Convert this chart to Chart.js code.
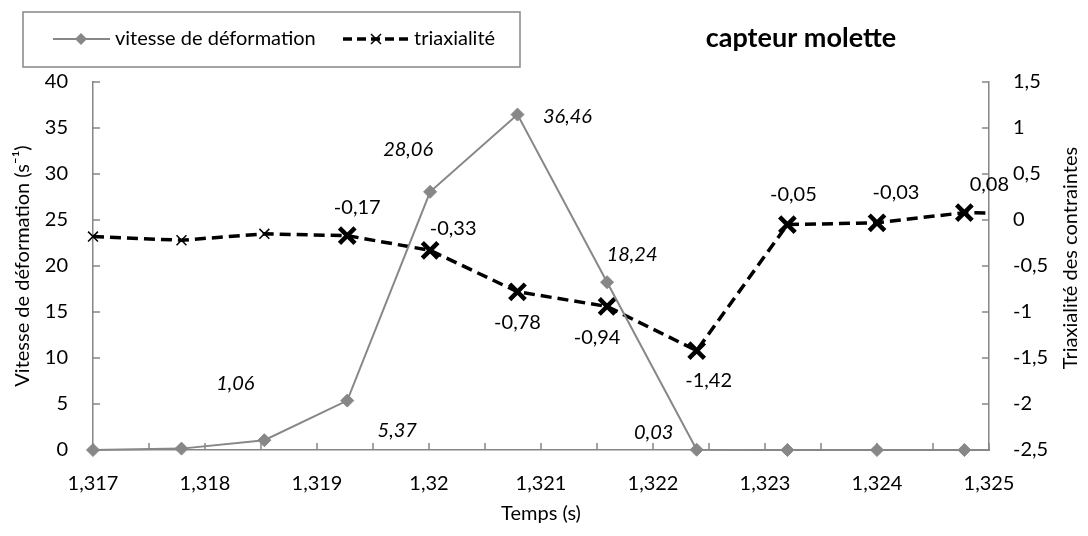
<!DOCTYPE html>
<html>
<head>
<meta charset="utf-8">
<script src="https://cdn.jsdelivr.net/npm/chart.js@4"></script>
<style>
  body { margin: 0; background: #fff; }
  #cadre { width: 1088px; height: 536px; }
</style>
</head>
<body>
<div id="cadre"><canvas id="graphe" width="1088" height="536"></canvas></div>
<script>
// Données
const temps = [1.317, 1.31779, 1.31853, 1.31927, 1.32001, 1.32079, 1.32159, 1.32239, 1.3232, 1.324, 1.32478, 1.32556];
const vitesse = [0, 0.15, 1.06, 5.37, 28.06, 36.46, 18.24, 0.03, 0, 0, 0, 0];
const triaxialite = [-0.18, -0.22, -0.15, -0.17, -0.33, -0.78, -0.94, -1.42, -0.05, -0.03, 0.08, 0.06];
const pointsEtiquetesVitesse = [2, 3, 4, 5, 6, 7];
const pointsEtiquetesTriax = [3, 4, 5, 6, 7, 8, 9, 10];
const ticksTemps = { min: 1.317, max: 1.325, pas: 0.0005 };
const ticksVitesse = { min: 0, max: 40, pas: 5 };
const ticksTriax = { min: -2.5, max: 1.5, pas: 0.5 };

const gris = "#878787";
const couleurAxe = "#868686";
const police = "Lato";

// décalage des étiquettes (px) par index de point
const decalVitesse = { 2: [-29, -57], 3: [50, 30], 4: [-22, -42], 5: [50, 2], 6: [25, -28], 7: [-43, -17] };
const decalTriax = { 3: [10, -28], 4: [23, -22], 5: [0, 31], 6: [-10, 31], 7: [12, 30], 8: [6, -30], 9: [19, -30], 10: [25, -28] };

const virgule = v => String(v).replace(".", ",");

const habillage = {
    id: "habillage",
    beforeDatasetsDraw(chart) {
        const ctx = chart.ctx;
        const a = chart.chartArea;
        const { x, y, y2 } = chart.scales;
        ctx.save();
        ctx.strokeStyle = couleurAxe;
        ctx.lineWidth = 1.5;
        ctx.beginPath();
        x.ticks.forEach(t => {
            const px = x.getPixelForValue(t.value);
            ctx.moveTo(px, a.bottom); ctx.lineTo(px, a.bottom - 7);
        });
        y.ticks.forEach(t => {
            const py = y.getPixelForValue(t.value);
            ctx.moveTo(a.left, py); ctx.lineTo(a.left + 7, py);
        });
        y2.ticks.forEach(t => {
            const py = y2.getPixelForValue(t.value);
            ctx.moveTo(a.right, py); ctx.lineTo(a.right - 7, py);
        });
        ctx.stroke();
        ctx.restore();
    },
    afterDatasetsDraw(chart) {
        const ctx = chart.ctx;
        ctx.save();
        ctx.fillStyle = "#000";
        ctx.textAlign = "center";
        ctx.textBaseline = "middle";

        // étiquettes de données
        const mv = chart.getDatasetMeta(0).data;
        ctx.font = "italic 20px " + police;
        pointsEtiquetesVitesse.forEach(i => {
            const d = decalVitesse[i];
            ctx.fillText(vitesse[i].toFixed(2).replace(".", ","), mv[i].x + d[0], mv[i].y + d[1]);
        });
        const mt = chart.getDatasetMeta(1).data;
        ctx.font = "20px " + police;
        pointsEtiquetesTriax.forEach(i => {
            const d = decalTriax[i];
            ctx.fillText(triaxialite[i].toFixed(2).replace(".", ","), mt[i].x + d[0], mt[i].y + d[1]);
        });

        // titre du graphique
        ctx.font = "bold 27px " + police;
        ctx.fillText("capteur molette", 801, 38);

        // titre de l'axe de droite
        ctx.font = "20px " + police;
        ctx.save();
        ctx.translate(1071, 258);
        ctx.rotate(-Math.PI / 2);
        ctx.fillText("Triaxialité des contraintes", 0, 0);
        ctx.restore();

        // légende
        const ds = chart.data.datasets;
        ctx.strokeStyle = couleurAxe;
        ctx.lineWidth = 1.5;
        ctx.strokeRect(23, 12, 497, 55);
        const yl = 39;
        ctx.strokeStyle = ds[0].borderColor;
        ctx.lineWidth = 2;
        ctx.beginPath(); ctx.moveTo(53, yl); ctx.lineTo(110, yl); ctx.stroke();
        ctx.fillStyle = ds[0].pointBackgroundColor;
        ctx.beginPath();
        ctx.moveTo(75, yl); ctx.lineTo(81, yl - 6); ctx.lineTo(87, yl); ctx.lineTo(81, yl + 6); ctx.closePath();
        ctx.fill();
        ctx.strokeStyle = "#000";
        ctx.lineWidth = 3.5;
        ctx.setLineDash([9, 5]);
        ctx.beginPath(); ctx.moveTo(343, yl); ctx.lineTo(410, yl); ctx.stroke();
        ctx.setLineDash([]);
        ctx.lineWidth = 1.5;
        ctx.beginPath();
        ctx.moveTo(371, yl - 5); ctx.lineTo(381, yl + 5);
        ctx.moveTo(381, yl - 5); ctx.lineTo(371, yl + 5);
        ctx.stroke();
        ctx.fillStyle = "#000";
        ctx.textAlign = "left";
        ctx.fillText("vitesse de déformation", 115, yl);
        ctx.fillText("triaxialité", 414, yl);
        ctx.restore();
    }
};

const grandX = triaxialite.map((v, i) => i >= 3 && i <= 10);
const clipArea = { left: 10, top: 10, right: 1, bottom: 10 };

new Chart(document.getElementById("graphe"), {
    type: "line",
    data: {
        datasets: [{
            label: "vitesse de déformation",
            data: temps.map((t, i) => ({ x: t, y: vitesse[i] })),
            yAxisID: "y",
            borderColor: gris,
            borderWidth: 2,
            pointStyle: "rectRot",
            pointRadius: temps.map((t, i) => i === temps.length - 1 ? 0 : 6.5),
            pointBackgroundColor: gris,
            pointBorderColor: gris,
            pointBorderWidth: 1,
            clip: clipArea,
            tension: 0
        }, {
            label: "triaxialité",
            data: temps.map((t, i) => ({ x: t, y: triaxialite[i] })),
            yAxisID: "y2",
            borderColor: "#000",
            borderWidth: 3.5,
            borderDash: [11, 6],
            pointStyle: "crossRot",
            pointRadius: temps.map((t, i) => i === temps.length - 1 ? 0 : (grandX[i] ? 11 : 7)),
            pointBorderColor: "#000",
            pointBorderWidth: temps.map((t, i) => grandX[i] ? 4.5 : 1.5),
            clip: clipArea,
            tension: 0
        }]
    },
    options: {
        responsive: false,
        animation: false,
        layout: { padding: { top: 82, left: 0, right: 0, bottom: 0 } },
        plugins: { legend: { display: false }, tooltip: { enabled: false } },
        scales: {
            x: {
                type: "linear",
                min: ticksTemps.min,
                max: ticksTemps.max,
                afterFit: s => { s.height = 86; },
                border: { color: couleurAxe, width: 1.5 },
                grid: { display: false, drawTicks: false },
                ticks: {
                    stepSize: ticksTemps.pas,
                    autoSkip: false,
                    maxRotation: 0,
                    padding: 22,
                    color: "#000",
                    font: { family: police, size: 20 },
                    callback: v => Math.round(v * 2000) % 2 === 0 ? virgule(parseFloat(v.toFixed(3))) : ""
                },
                title: { display: true, text: "Temps (s)", color: "#000", font: { family: police, size: 20 }, padding: { top: 0, bottom: 10 } }
            },
            y: {
                position: "left",
                min: ticksVitesse.min,
                max: ticksVitesse.max,
                afterFit: s => { s.width = 93; },
                border: { color: couleurAxe, width: 1.5 },
                grid: { display: false, drawTicks: false },
                ticks: { stepSize: ticksVitesse.pas, padding: 25, color: "#000", font: { family: police, size: 20 } },
                title: { display: true, text: "Vitesse de déformation (s⁻¹)", color: "#000", font: { family: police, size: 20 }, padding: { top: 11, bottom: 0 } }
            },
            y2: {
                position: "right",
                min: ticksTriax.min,
                max: ticksTriax.max,
                afterFit: s => { s.width = 99; },
                border: { color: couleurAxe, width: 1.5 },
                grid: { display: false, drawTicks: false },
                ticks: { stepSize: ticksTriax.pas, padding: 24, color: "#000", font: { family: police, size: 20 }, callback: v => virgule(v) }
            }
        }
    },
    plugins: [habillage]
});
</script>
</body>
</html>
